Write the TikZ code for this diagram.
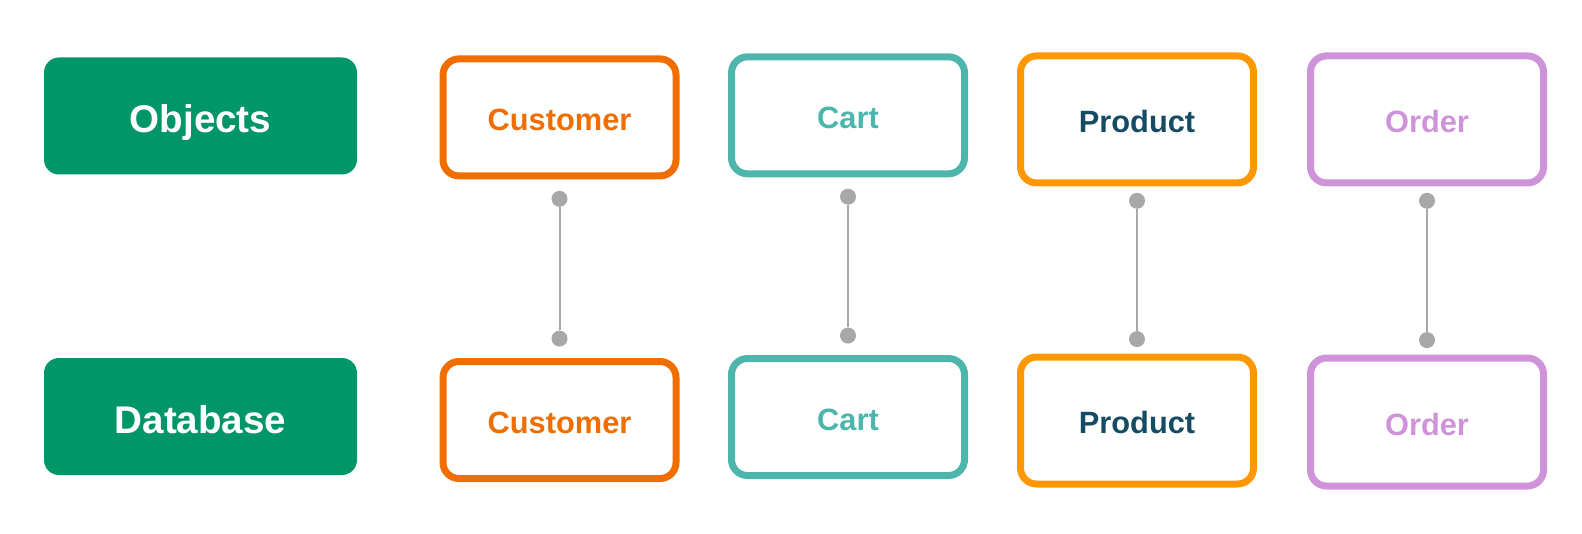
\documentclass[tikz,border=0pt]{standalone}
\usepackage{fontspec}
\setmainfont{Liberation Sans}
\usetikzlibrary{positioning}
\definecolor{layergreen}{RGB}{0,150,104}
\definecolor{custorange}{RGB}{240,110,0}
\definecolor{cartteal}{RGB}{77,182,172}
\definecolor{prodorange}{RGB}{255,152,0}
\definecolor{prodtext}{RGB}{22,75,100}
\definecolor{orderlilac}{RGB}{206,147,216}
\definecolor{linkgray}{RGB}{168,168,168}

\begin{document}
\begin{tikzpicture}[x=0.5pt, y=-0.5pt,
    layer/.style={fill=layergreen, rounded corners=7.5pt, minimum width=156.5pt,
      minimum height=58.5pt, inner sep=0pt, text height=16.6pt, text depth=0pt,
      text=white, font=\fontsize{19.3}{22}\selectfont\bfseries},
    entity/.style={draw=#1, text=#1, line width=3.5pt, rounded corners=8pt, minimum width=116.5pt,
      minimum height=58.5pt, inner sep=0pt, text height=13pt, text depth=0pt,
      font=\fontsize{15.4}{18}\selectfont\bfseries},
    dot/.style={circle, fill=linkgray, inner sep=0pt, minimum size=8pt},
    link/.style={draw=linkgray, line width=1pt}]
      \useasboundingbox (0,0) rectangle (1582,534);
      % row labels
      \node[layer] (obj) at (200.5,116) {Objects};
      \node[layer] (db) at (200.5,416.5) {Database};
      % objects row
      \node[entity=custorange] (ocust) at (559.5,117.4) {Customer};
      \node[entity=cartteal] (ocart) at (848,115.3) {Cart};
      \node[entity=prodorange, text=prodtext, minimum height=63.5pt] (oprod) at (1137,119.4) {Product};
      \node[entity=orderlilac, minimum height=63.5pt] (oord) at (1427,119.4) {Order};
      % database row
      \node[entity=custorange] (dcust) at (559.5,420) {Customer};
      \node[entity=cartteal] (dcart) at (848,417) {Cart};
      \node[entity=prodorange, text=prodtext, minimum height=63.5pt] (dprod) at (1137,420.5) {Product};
      \node[entity=orderlilac, minimum height=64pt] (dord) at (1427,422) {Order};
      % end points of the links
      \node[dot, below=5.5pt of ocust] (ocustd) {};
      \node[dot, below=5.5pt of ocart] (ocartd) {};
      \node[dot, below=3pt of oprod] (oprodd) {};
      \node[dot, below=3pt of oord] (oordd) {};
      \node[dot, above=5.5pt of dcust] (dcustd) {};
      \node[dot, above=5.5pt of dcart] (dcartd) {};
      \node[dot, above=3pt of dprod] (dprodd) {};
      \node[dot, above=3pt of dord] (dordd) {};
      \draw[link] (ocustd) -- (dcustd);
      \draw[link] (ocartd) -- (dcartd);
      \draw[link] (oprodd) -- (dprodd);
      \draw[link] (oordd) -- (dordd);
\end{tikzpicture}
\end{document}
